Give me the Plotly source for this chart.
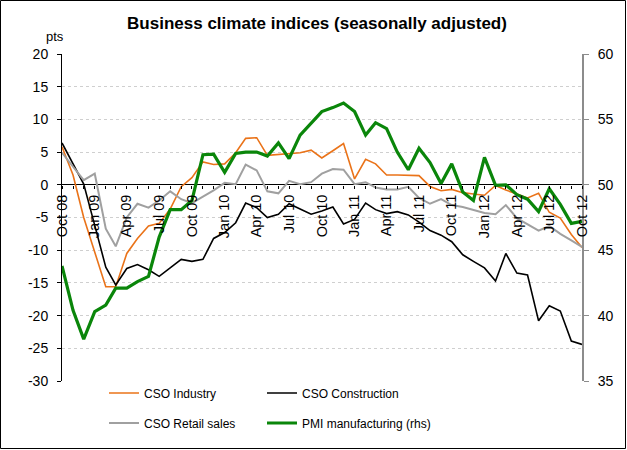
import pandas as pd
import plotly.graph_objects as go

months = pd.date_range("2008-10-01", periods=49, freq="MS")

tick_labels = ["Oct 08", "Jan 09", "Apr 09", "Jul 09", "Oct 09", "Jan 10", "Apr 10",
               "Jul 10", "Oct 10", "Jan 11", "Apr 11", "Jul 11", "Oct 11", "Jan 12",
               "Apr 12", "Jul 12", "Oct 12"]

left_ticks = [20, 15, 10, 5, 0, -5, -10, -15, -20, -25, -30]
right_ticks = [60, 55, 50, 45, 40, 35]

cso_industry = [5.8, 1.5, -5.0, -10.4, -15.6, -15.6, -10.5, -8.2, -6.3, -5.9, -3.7, -0.3,
                1.1, 3.5, 3.1, 3.2, 4.9, 7.1, 7.2, 4.5, 4.6, 4.7, 4.9, 5.3,
                4.1, 5.2, 6.3, 0.9, 3.9, 3.2, 1.5, 1.5, 1.45, 1.4, -0.25, -0.9,
                -0.7, -1.2, -1.4, -1.6, -0.1, -0.8, -1.4, -2.0, -1.3, -4.2, -5.1, -7.6, -9.6]

cso_construction = [6.4, 3.2, 0.1, -6.2, -12.6, -15.3, -12.8, -12.2, -13.0, -14.0, -12.7, -11.4,
                    -11.7, -11.4, -8.2, -7.3, -5.8, -2.8, -3.5, -5.0, -4.5, -2.9, -3.7, -4.5,
                    -4.0, -3.4, -6.0, -5.3, -2.8, -3.8, -4.4, -4.1, -4.6, -5.7, -7.0, -7.7,
                    -8.7, -10.7, -11.7, -12.7, -14.7, -10.5, -13.5, -13.8, -20.8, -18.5, -19.3, -23.9, -24.4]

cso_retail = [4.9, 2.8, 0.7, 1.7, -6.7, -9.4, -5.0, -2.9, -3.5, -2.4, -1.0, -2.2,
              -2.8, -1.8, -0.85, 0.3, 0.1, 3.1, 2.2, -1.0, -1.3, 0.6, 0.1, 0.4,
              1.7, 2.4, 2.3, 0.1, 0.4, -0.4, -0.7, -0.7, -0.3, -2.0, -2.9, -2.2,
              -3.1, -3.4, -3.9, -4.3, -4.5, -3.1, -5.1, -6.1, -7.0, -6.3, -7.5, -8.5, -9.5]

pmi_manufacturing = [43.8, 40.4, 38.2, 40.3, 40.8, 42.1, 42.1, 42.6, 43.0, 46.0, 48.1, 48.1,
                     48.8, 52.3, 52.35, 50.95, 52.4, 52.5, 52.5, 52.2, 53.2, 52.0, 53.8, 54.7,
                     55.6, 55.9, 56.25, 55.6, 53.8, 54.75, 54.3, 52.5, 51.15, 52.8, 51.7, 50.1,
                     51.6, 49.45, 48.8, 52.1, 49.96, 50.0, 49.25, 48.9, 47.95, 49.7, 48.5, 47.05, 47.2]

FONT = "Liberation Sans, Arial, sans-serif"

fig = go.Figure()
fig.add_trace(go.Scatter(x=months, y=cso_industry, mode="lines", name="CSO Industry",
                         line=dict(color="#EA7319", width=1.6), legend="legend"))
fig.add_trace(go.Scatter(x=months, y=cso_construction, mode="lines", name="CSO Construction",
                         line=dict(color="#000000", width=1.6), legend="legend2"))
fig.add_trace(go.Scatter(x=months, y=cso_retail, mode="lines", name="CSO Retail sales",
                         line=dict(color="#A0A0A0", width=2), legend="legend3"))
fig.add_trace(go.Scatter(x=months, y=pmi_manufacturing, mode="lines", name="PMI manufacturing (rhs)",
                         line=dict(color="#0A860A", width=3.2), yaxis="y2", legend="legend4"))

tickvals = list(months)
ticktext = [tick_labels[i // 3] if i % 3 == 0 else "" for i in range(len(months))]

W, H = 627, 450
ml, mr, mt, mb = 62, 45, 54, 69
pw, ph = W - ml - mr, H - mt - mb


def px(x):
    return (x - ml) / pw


def py(y):
    return (H - mb - y) / ph


def leg(x, y):
    return dict(orientation="h", x=px(x), xanchor="left", y=py(y), yanchor="middle",
                font=dict(family=FONT, size=12, color="black"), bgcolor="rgba(0,0,0,0)",
                borderwidth=0)


fig.update_layout(
    width=W, height=H,
    margin=dict(l=ml, r=mr, t=mt, b=mb, pad=0),
    paper_bgcolor="white", plot_bgcolor="white",
    font=dict(family=FONT, size=13, color="black"),
    title=dict(text="<b>Business climate indices (seasonally adjusted)</b>",
               font=dict(family=FONT, size=17, color="black"),
               x=px(317), xref="paper", xanchor="center",
               y=1 - 23 / H, yref="container", yanchor="middle"),
    xaxis=dict(type="date", range=[months[0], months[-1]],
               anchor="free", position=0.6,
               showgrid=False, showline=False, zeroline=False,
               tickmode="array", tickvals=tickvals, ticktext=ticktext,
               tickangle=-90, ticks="outside", ticklen=3, tickcolor="black",
               tickfont=dict(family=FONT, size=14.5)),
    yaxis=dict(range=[-30, 20], tickmode="array", tickvals=left_ticks,
               ticktext=[str(v) for v in left_ticks],
               showline=True, linecolor="black", linewidth=1,
               ticks="outside", ticklen=4, tickcolor="black", ticklabelstandoff=6,
               showgrid=True, gridcolor="#CFCFCF", griddash="dot", gridwidth=1,
               zeroline=True, zerolinecolor="black", zerolinewidth=1,
               tickfont=dict(family=FONT, size=14)),
    yaxis2=dict(range=[35, 60], tickmode="array", tickvals=right_ticks,
                ticktext=[str(v) for v in right_ticks],
                overlaying="y", side="right",
                showline=True, linecolor="#8C8C8C", linewidth=2,
                ticks="outside", ticklen=5, tickcolor="#8C8C8C", ticklabelstandoff=6,
                showgrid=False, zeroline=False,
                tickfont=dict(family=FONT, size=14)),
    legend=leg(104, 393),
    legend2=leg(262, 393),
    legend3=leg(104, 423),
    legend4=leg(262, 423),
    showlegend=True,
)

fig.add_annotation(text="pts", x=px(55), y=py(36), xref="paper", yref="paper",
                   showarrow=False, xanchor="center", yanchor="middle",
                   font=dict(family=FONT, size=13, color="black"))

fig.add_shape(type="rect", xref="paper", yref="paper",
              x0=px(0.5), x1=px(625.5), y0=py(448.5), y1=py(0.5),
              line=dict(color="black", width=1), fillcolor="rgba(0,0,0,0)", layer="below")

fig.write_html("out.html", config={"displayModeBar": False},
               post_script="document.body.style.margin='0px';")
